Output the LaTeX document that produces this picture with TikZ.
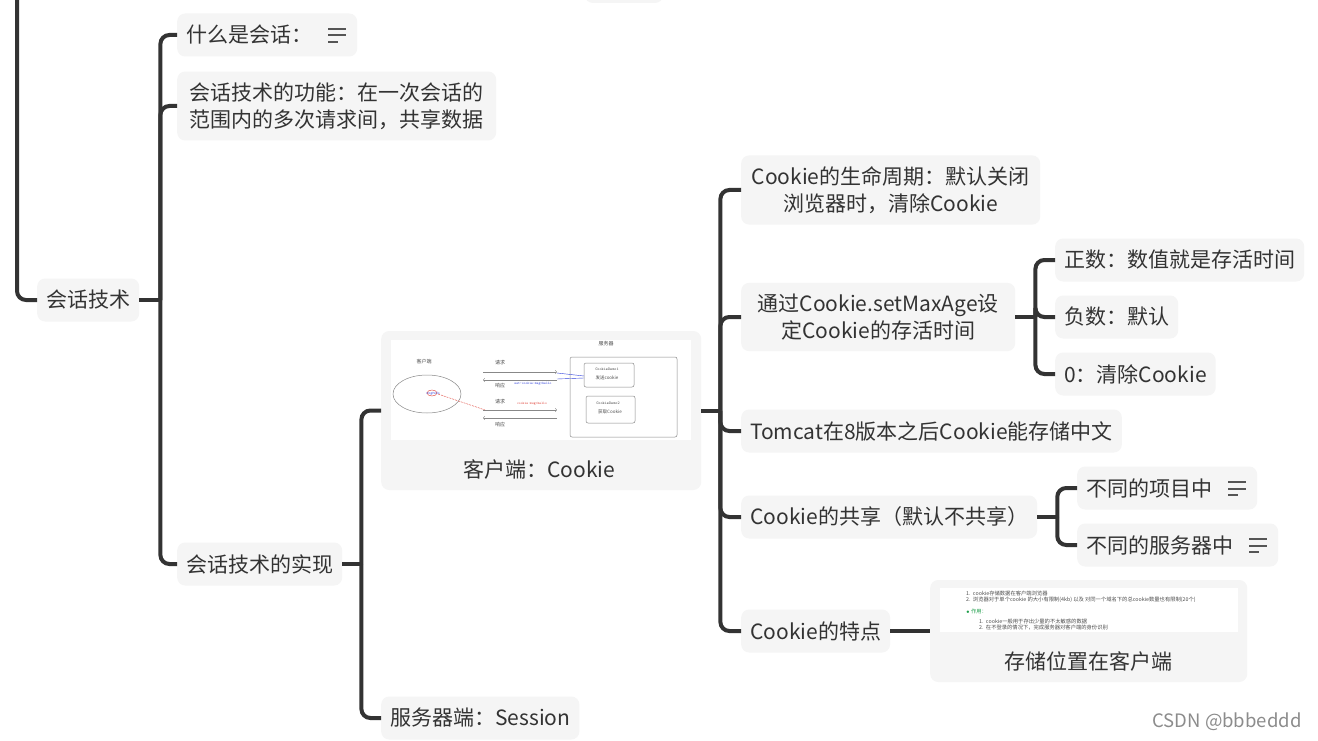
\documentclass[tikz,border=0pt]{standalone}
\usepackage{fontspec}
\setmainfont{Noto Sans CJK SC}
\usepackage{tikz}
\definecolor{boxgray}{HTML}{F5F5F5}
\definecolor{textgray}{HTML}{333333}
\definecolor{linegray}{HTML}{333333}
\definecolor{icongray}{HTML}{555555}
\definecolor{picgray}{HTML}{888888}
\definecolor{picblue}{HTML}{3344DD}
\definecolor{picred}{HTML}{E0443A}
\definecolor{picgreen}{HTML}{1E9E4A}
\newcommand{\notesicon}{\hspace{16pt}{\color{icongray}\rlap{\rule[13pt]{18pt}{2pt}}\rlap{\rule[6.5pt]{18pt}{2pt}}\rule[0pt]{10pt}{2pt}}\hspace{10pt}}

\begin{document}
\begin{tikzpicture}[
  x=1pt,
  y=-1pt,
  topic/.style={
    fill=boxgray,
    rounded corners=8pt,
    text=textgray,
    font=\fontsize{21}{27}\selectfont,
    inner xsep=9pt,
    inner ysep=11pt,
    minimum height=43pt,
    align=center,
    anchor=west
  },
  edge/.style={
    draw=linegray,
    line width=4pt,
    rounded corners=9pt
  },
  tiny/.style={
    font=\fontsize{5}{6}\selectfont,
    inner sep=0pt,
    text=black!70
  },
  pic/.style={
    draw=picgray,
    line width=0.5pt
  }
]
\useasboundingbox (0,0) rectangle (1318,741);
\fill[white] (0,0) rectangle (1318,741);
\clip (0,0) rectangle (1318,741);

% top node, cut by the edge
\fill[boxgray, rounded corners=8pt] (585,-40) rectangle (663,3);

\node[topic] (root) at (37,300) {会话技术};
\node[topic] (what) at (177,35) {什么是会话：\notesicon};
\node[topic, align=left, minimum width=319pt] (use) at (177,106) {会话技术的功能：在一次会话的\\范围内的多次请求间，共享数据};
\node[topic] (impl) at (177,564) {会话技术的实现};

\node[topic, minimum width=320pt, minimum height=159pt] (client) at (381,410.5) {};
\node[topic, fill=none] (clientlbl) at (454,469) {客户端：Cookie};
\node[topic] (server) at (381,718) {服务器端：Session};

\node[topic, minimum width=299pt] (life) at (741,190) {Cookie的生命周期：默认关闭\\浏览器时，清除Cookie};
\node[topic, minimum width=274pt] (maxage) at (741,317) {通过Cookie.setMaxAge设\\定Cookie的存活时间};
\node[topic] (tomcat) at (741,431) {Tomcat在8版本之后Cookie能存储中文};
\node[topic] (share) at (741,517) {Cookie的共享（默认不共享）};
\node[topic] (feat) at (741,631) {Cookie的特点};

\node[topic] (pos) at (1055,260) {正数：数值就是存活时间};
\node[topic] (neg) at (1055,317) {负数：默认};
\node[topic] (zero) at (1055,374) {0：清除Cookie};

\node[topic] (proj) at (1077,488) {不同的项目中\notesicon};
\node[topic] (srv) at (1077,545) {不同的服务器中\notesicon};

\node[topic, minimum width=317pt, minimum height=102pt] (where) at (930,631) {};
\node[topic, fill=none] (wherelbl) at (995,661) {存储位置在客户端};

% connectors
\coordinate (upper) at (17,-5);
\draw[edge] (upper) |- (root.west);

\draw[edge, rounded corners=0pt] (root.east) -- ++(21,0) coordinate (root-j);
\foreach \c in {what,use,impl}
  \draw[edge] (root-j) |- (\c.west);

\draw[edge, rounded corners=0pt] (impl.east) -- ++(19,0) coordinate (impl-j);
\foreach \c in {client,server}
  \draw[edge] (impl-j) |- (\c.west);

\draw[edge, rounded corners=0pt] (client.east) -- ++(19,0) coordinate (client-j);
\foreach \c in {life,maxage,tomcat,share,feat}
  \draw[edge] (client-j) |- (\c.west);

\draw[edge, rounded corners=0pt] (maxage.east) -- ++(20,0) coordinate (maxage-j);
\foreach \c in {pos,neg,zero}
  \draw[edge] (maxage-j) |- (\c.west);

\draw[edge, rounded corners=0pt] (share.east) -- ++(20,0) coordinate (share-j);
\foreach \c in {proj,srv}
  \draw[edge] (share-j) |- (\c.west);

\draw[edge] (feat.east) -- (where.west);

% screenshot in the client node
\fill[white] (391,340) rectangle (691,440);
\node[tiny] (s-title) at (606,344) {服务器};
\node[tiny] (c-title) at (424,362) {客户端};
\draw[pic] (427,394) ellipse (34 and 19);
\draw[picred, line width=0.4pt] (432,393) ellipse (5 and 3);
\node[tiny, text=picblue, font=\fontsize{3}{4}\selectfont] (msg) at (433,394) {msgHello};
\draw[pic, rounded corners=2pt] (570,357) rectangle (677,437);
\draw[pic, rounded corners=2pt] (584,363) rectangle (634,387);
\draw[pic, rounded corners=2pt] (586,396) rectangle (635,423);
\node[tiny, font=\fontsize{4}{5}\ttfamily] (demo1) at (607,369) {CookieDemo1};
\node[tiny, font=\fontsize{4.5}{5}\selectfont] (send) at (607,378) {发送cookie};
\node[tiny, font=\fontsize{4}{5}\ttfamily] (demo2) at (608,403) {CookieDemo2};
\node[tiny, font=\fontsize{4.5}{5}\selectfont] (get) at (610,412) {获取Cookie};
\node[tiny] (req1) at (500,363) {请求};
\node[tiny] (res1) at (500,386) {响应};
\node[tiny] (req2) at (500,402) {请求};
\node[tiny] (res2) at (500,425) {响应};
\draw[pic, ->] (483,372) -- (557,372);
\draw[pic, ->] (557,380) -- (483,380);
\draw[pic, ->] (483,410) -- (557,410);
\draw[pic, ->] (557,418) -- (483,418);
\draw[picblue, line width=0.4pt] (557,373) -- (584,376);
\draw[picblue, line width=0.4pt] (557,379) -- (584,378);
\node[tiny, text=picblue, font=\fontsize{3.5}{4}\ttfamily] (setc) at (533,384) {set-cookie:msg=hello};
\node[tiny, text=picred, font=\fontsize{3.5}{4}\ttfamily] (getc) at (532,404) {cookie:msg=hello};
\draw[picred, line width=0.4pt, dash pattern=on 2pt off 1pt] (438,394) -- (485,410);

% screenshot in the feature node
\fill[white] (940,588) rectangle (1238,632);
\begin{scope}[every node/.style={tiny, anchor=west, font=\fontsize{5.3}{6}\selectfont}]
\node (n1) at (966,593) {1.\ \ cookie存储数据在客户端浏览器};
\node (n2) at (966,599.5) {2.\ \ 浏览器对于单个cookie 的大小有限制(4kb) 以及 对同一个域名下的总cookie数量也有限制(20个)};
\node[text=picgreen] (n3) at (966,612) {$\bullet$ 作用：};
\node (n4) at (979,621) {1.\ \ cookie一般用于存出少量的不太敏感的数据};
\node (n5) at (979,628) {2.\ \ 在不登录的情况下，完成服务器对客户端的身份识别};
\end{scope}

\node[text=black!45, font=\fontsize{18.5}{20}\selectfont, anchor=east] (mark) at (1305,722) {CSDN @bbbeddd};
\end{tikzpicture}
\end{document}
